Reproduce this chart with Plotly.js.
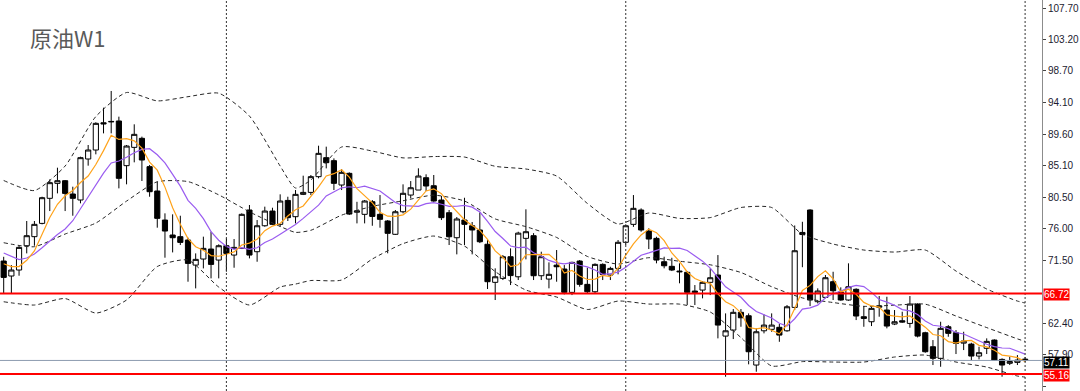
<!DOCTYPE html>
<html><head><meta charset="utf-8">
<script src="https://cdn.plot.ly/plotly-3.0.1.min.js"></script>
<style>html,body{margin:0;padding:0;background:#fff;}#chart{width:1080px;height:391px;}</style>
</head><body><div id="chart"></div>
<script>
const openP = [71.39,69.24,70.10,73.59,74.89,76.80,80.40,82.55,82.93,81.02,80.16,86.05,87.34,91.25,91.45,91.51,85.09,87.72,89.02,84.95,
81.45,77.28,75.13,74.89,74.41,70.81,71.68,73.11,71.53,73.59,72.25,73.21,78.72,72.73,76.46,78.57,76.66,80.10,77.76,80.97,
81.25,83.51,86.24,85.81,82.31,83.99,78.40,78.10,79.91,78.10,77.14,75.23,78.47,80.87,81.59,83.36,82.21,80.15,78.33,74.74,
77.28,76.46,75.85,73.80,68.33,68.90,72.01,69.13,74.65,75.03,69.28,68.80,70.80,70.24,66.89,71.39,68.04,66.98,70.91,69.38,
70.34,74.08,76.66,78.72,75.70,74.65,71.29,70.63,69.95,69.77,67.08,67.22,68.33,69.38,60.61,61.47,64.02,63.53,56.45,61.37,
61.58,61.87,61.37,64.73,75.50,78.72,65.55,66.17,68.42,66.94,65.79,67.33,63.39,62.67,64.75,64.35,62.34,62.81,62.43,65.21,
61.09,59.08,57.41,61.95,61.09,59.60,59.46,57.74,58.85,60.04,57.26,56.70,56.83,57.30];
const highP = [72.00,70.80,73.69,77.14,77.14,80.63,83.12,84.80,83.03,82.07,86.38,88.06,91.32,93.42,95.82,92.13,88.06,91.03,89.26,85.19,
82.79,78.24,78.10,77.90,74.74,72.49,74.89,75.61,73.79,74.65,74.55,78.24,79.44,77.28,79.20,79.05,80.97,80.63,81.59,83.65,
83.75,87.96,87.82,86.14,84.61,84.13,79.90,80.15,80.15,80.87,77.28,78.72,82.41,82.88,84.71,83.85,83.75,80.73,78.72,77.71,
80.48,77.00,78.39,74.40,70.34,72.25,73.21,75.60,78.82,75.40,72.73,71.20,72.97,70.81,71.29,71.53,70.43,71.06,71.06,70.57,
74.41,76.66,80.87,78.96,76.09,74.88,72.01,71.86,71.06,69.95,67.94,68.52,70.34,72.25,63.87,64.49,64.49,63.87,61.72,63.73,
63.87,62.34,65.07,76.50,77.03,78.82,67.47,69.38,69.85,67.61,71.06,67.47,64.92,64.92,66.36,66.26,64.35,64.11,66.36,65.31,
61.23,60.04,62.67,62.19,61.47,61.23,59.65,59.08,60.28,60.14,57.41,57.64,57.88,57.60];
const lowP = [66.74,66.74,69.28,72.49,73.59,76.66,78.57,81.11,78.57,77.90,79.68,85.09,86.72,89.73,89.73,81.83,82.41,85.57,82.89,80.63,
76.18,71.87,72.63,73.69,68.42,67.46,70.33,68.90,68.90,69.86,70.43,73.11,71.77,71.29,76.32,76.56,76.32,77.14,76.80,80.87,
80.87,83.27,84.70,81.59,81.59,78.00,76.80,76.80,76.46,76.18,72.50,75.13,78.24,80.40,81.59,81.45,79.91,77.28,73.69,72.35,
73.69,72.35,73.97,67.37,65.79,68.66,67.94,68.66,71.63,68.66,68.66,67.47,68.42,66.60,66.50,67.70,66.70,66.70,68.66,68.66,
69.48,73.69,76.30,75.60,73.11,71.06,70.34,69.95,68.19,65.07,65.07,66.03,66.50,60.28,54.77,60.18,61.95,56.55,55.49,61.00,
61.23,59.79,61.23,64.35,70.50,64.92,65.30,66.03,65.79,65.69,65.69,62.91,61.95,62.05,63.39,61.72,62.19,62.52,61.81,60.42,
58.22,56.45,56.20,60.51,58.03,58.60,57.16,57.26,58.03,57.06,54.77,56.45,56.45,56.90];
const closeP = [69.04,70.10,73.35,75.03,76.66,80.49,82.65,82.93,81.11,80.40,86.24,87.34,91.17,91.10,91.40,83.27,87.91,89.59,85.90,81.35,
77.52,75.70,74.74,74.07,71.05,71.63,73.21,70.91,73.59,72.49,73.35,78.10,72.25,76.46,78.57,76.66,80.01,77.62,80.97,81.25,
83.51,86.86,85.52,82.55,84.13,78.14,78.60,80.01,77.80,77.38,75.37,78.47,81.12,81.92,83.60,82.17,80.01,77.62,74.88,77.43,
76.66,75.85,74.16,68.42,69.13,72.01,69.30,75.40,75.60,69.28,72.01,69.48,70.57,66.89,71.20,68.04,66.98,70.91,69.48,70.33,
74.08,76.46,78.96,75.85,74.55,71.53,70.71,70.10,69.85,66.89,66.89,68.33,68.99,62.19,61.37,64.02,63.24,58.36,61.23,62.19,
62.19,60.75,64.82,72.87,75.20,65.79,67.08,68.99,67.12,65.79,67.70,63.49,63.15,64.59,64.95,62.05,62.67,62.62,65.21,60.61,
58.36,57.41,61.72,61.00,59.56,59.90,57.74,58.22,59.85,57.16,56.45,56.95,57.16,57.11];
const maFast = [71.0,70.6,70.6,71.5,72.84,75.13,77.64,79.55,80.77,81.52,82.67,83.60,85.25,87.25,89.45,88.86,88.97,88.65,87.61,85.60,
84.45,82.01,79.04,76.68,74.62,73.44,72.94,72.17,72.08,72.37,72.71,73.69,73.96,74.53,75.75,76.41,76.79,77.86,78.77,79.30,
80.67,82.04,83.62,83.94,84.51,83.44,81.79,80.69,79.74,78.39,77.83,77.81,78.03,78.85,80.10,81.46,81.76,81.06,79.66,78.42,
77.32,76.49,75.80,74.50,72.84,71.91,70.60,70.85,72.29,72.32,72.32,72.35,71.39,69.65,70.03,69.24,68.74,68.80,69.32,69.15,
70.36,72.25,73.86,75.14,75.98,75.47,74.32,72.55,71.35,69.82,68.89,68.41,68.19,66.66,65.55,64.98,63.96,61.84,61.64,61.81,
61.44,60.94,62.24,64.56,67.17,67.89,69.15,69.99,68.84,66.95,67.34,66.62,65.45,64.94,64.78,63.65,63.48,63.38,63.50,62.63,
61.89,60.84,60.66,59.82,59.61,59.92,59.98,59.28,59.05,58.57,57.88,57.73,57.51,56.97];
const maSlow = [72.54,72.11,71.6,71.82,72.4,73.3,74.3,75.2,76.0,77.18,78.90,80.62,82.40,84.01,85.48,85.76,86.29,86.95,87.43,87.53,
86.66,85.49,83.85,82.15,80.11,78.95,77.48,75.61,74.38,73.49,73.07,73.31,73.07,73.30,74.06,74.56,75.24,75.91,76.65,77.52,
78.54,79.42,80.74,81.35,81.91,82.06,81.92,82.15,81.84,81.45,80.64,79.80,79.36,79.29,79.24,79.64,79.79,79.55,79.25,79.26,
79.39,79.13,78.43,77.08,75.63,74.62,73.55,73.32,73.40,72.58,72.12,71.48,71.12,70.97,71.17,70.78,70.55,70.10,69.48,69.59,
69.80,70.49,71.33,72.23,72.56,72.91,73.29,73.21,73.24,72.90,72.18,71.37,70.37,69.00,67.69,66.93,66.19,65.01,64.15,63.68,
63.21,62.45,62.04,63.10,64.49,64.66,65.05,66.11,66.70,67.06,67.61,67.89,67.72,66.89,65.87,65.49,65.05,64.41,64.22,63.70,
62.77,62.16,62.02,61.66,61.12,60.91,60.41,59.97,59.44,59.09,58.90,58.86,58.40,58.01];
const bandIdx = [0,4,8,12,16,20,24,28,32,36,38,40,44,48,52,56,60,64,68,72,76,80,84,88,92,96,100,104,108,112,116,120,124,128,132,133];
const bandUpper = [82.96,81.52,85.04,92.15,95.6,94.4,95.0,95.5,92.22,85.04,81.88,83.03,87.77,87.19,86.21,86.40,86.33,85.00,84.61,83.60,79.67,76.71,78.29,77.52,77.63,79.08,79.08,75.24,73.83,72.97,72.68,72.97,69.95,67.37,65.64,65.36];
const bandMid = [74.02,73.45,75.27,76.85,80.0,82.78,82.80,80.90,78.46,76.36,75.51,75.81,77.98,79.24,80.05,80.85,80.01,77.44,76.33,74.78,72.05,70.96,71.87,71.36,70.85,69.74,67.70,66.09,65.43,64.88,65.05,65.19,63.49,61.83,60.21,59.84];
const bandLower = [65.54,65.07,66.0,63.92,65.79,70.6,71.53,67.65,65.07,67.65,68.08,68.59,68.66,71.68,73.89,74.98,73.54,69.88,67.22,66.22,64.43,65.64,65.21,65.20,64.07,60.40,56.32,56.94,56.88,56.88,57.60,57.88,56.88,56.16,54.87,54.72];
const separatorIdx = [29, 81, 133];
const redLevels = [66.72, 55.16];
const lastPrice = 57.11;
const tickVals = [107.70,103.20,98.70,94.10,89.60,85.10,80.50,76.00,71.50,62.40,57.90,53.30];
const tickText = tickVals.map(v => v.toFixed(2));
const chartTitle = '原油W1';

const weeks = closeP.map((_, i) => i);
const axisFont = {family: 'Liberation Sans, Arial, sans-serif', size: 10, color: '#1b1b2f'};
const bandLine = {color:'#262626', width:1, dash:'4px,3px', shape:'spline', smoothing:0.6};

const traces = [
  {type:'candlestick', x:weeks, open:openP, high:highP, low:lowP, close:closeP,
   increasing:{line:{color:'#000', width:1}, fillcolor:'#ffffff'},
   decreasing:{line:{color:'#000', width:1}, fillcolor:'#000000'},
   whiskerwidth:0, hoverinfo:'none'},
  {type:'scatter', mode:'lines', x:bandIdx, y:bandUpper, line:bandLine, hoverinfo:'none'},
  {type:'scatter', mode:'lines', x:bandIdx, y:bandMid, line:bandLine, hoverinfo:'none'},
  {type:'scatter', mode:'lines', x:bandIdx, y:bandLower, line:bandLine, hoverinfo:'none'},
  {type:'scatter', mode:'lines', x:weeks, y:maSlow, line:{color:'#9a5cf0', width:1.2}, hoverinfo:'none'},
  {type:'scatter', mode:'lines', x:weeks, y:maFast, line:{color:'#ffa31a', width:1.2}, hoverinfo:'none'}
];

const shapes = [];
separatorIdx.forEach(s => shapes.push({type:'line', xref:'x', yref:'paper', x0:s, x1:s, y0:0, y1:1, line:{color:'#333', width:1, dash:'2px,2px'}}));
shapes.push({type:'line', xref:'paper', yref:'y', x0:0, x1:1, y0:lastPrice, y1:lastPrice, line:{color:'#8d9cb0', width:1}});
redLevels.forEach(v => shapes.push({type:'line', xref:'paper', yref:'y', x0:0, x1:1, y0:v, y1:v, line:{color:'#ff0000', width:2}}));

const annotations = [
  {xref:'paper', yref:'paper', x:28/1042, y:1-37/391, xanchor:'left', yanchor:'middle', text:chartTitle, showarrow:false,
   font:{family:'Noto Sans CJK SC, sans-serif', size:22, color:'#5a5a5a'}}
];
redLevels.forEach(v => annotations.push({xref:'paper', yref:'y', x:1, y:v, xanchor:'left', yanchor:'middle', xshift:1, yshift:-1,
  text:v.toFixed(2), showarrow:false, bgcolor:'#ff0000', borderpad:0, font:{family:axisFont.family, size:10, color:'#ffffff'}}));
annotations.push({xref:'paper', yref:'y', x:1, y:lastPrice, xanchor:'left', yanchor:'middle', xshift:1, yshift:-2,
  text:lastPrice.toFixed(2), showarrow:false, bgcolor:'#000000', borderpad:0, font:{family:axisFont.family, size:10, color:'#ffffff'}});

const layout = {
  width:1080, height:391, margin:{l:0, r:38, t:0, b:0},
  paper_bgcolor:'#ffffff', plot_bgcolor:'#ffffff', showlegend:false,
  boxgap:0.18, boxgroupgap:0.18,
  xaxis:{range:[-0.48, 135.2], showgrid:false, zeroline:false, showticklabels:false, ticks:'', showline:false,
         rangeslider:{visible:false}, fixedrange:true},
  yaxis:{range:[52.72, 108.89], side:'right', showgrid:false, zeroline:false, showline:true, linecolor:'#8c8c8c', linewidth:1,
         ticks:'outside', ticklen:3, tickcolor:'#444', tickvals:tickVals, ticktext:tickText, tickfont:axisFont, fixedrange:true},
  shapes:shapes, annotations:annotations
};

Plotly.newPlot('chart', traces, layout, {displayModeBar:false, staticPlot:true});
</script></body></html>
